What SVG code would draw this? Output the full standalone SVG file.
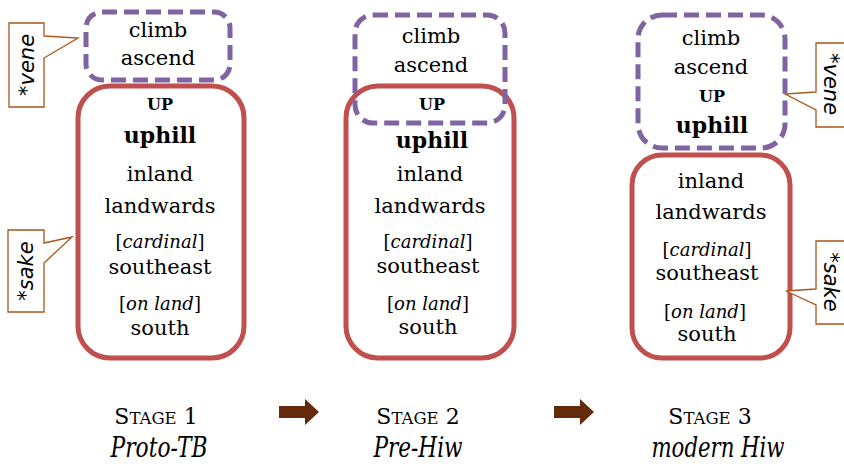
<svg xmlns="http://www.w3.org/2000/svg" width="844" height="466" viewBox="0 0 844 466">
<style>
.t{font-family:"DejaVu Serif","Liberation Serif",serif;fill:#000;text-anchor:middle}
.n{font-size:21px}
.up{font-size:16px;font-weight:bold}
.uh{font-size:22px;font-weight:bold}
.c{font-size:18px}
.i{font-style:italic}
.red{fill:none;stroke:#c0504d;stroke-width:5}
.pur{fill:none;stroke:#8064a2;stroke-width:5;stroke-dasharray:15 7}
.co{fill:#fff;stroke:#a8561a;stroke-width:1.3}
.cot{font-family:"DejaVu Sans","Liberation Sans",sans-serif;font-style:italic;font-size:21px;fill:#000;text-anchor:middle}
.st{font-family:"DejaVu Serif","Liberation Serif",serif;text-anchor:middle;fill:#000;font-size:22px}
.sc{font-size:16.5px}
.sn{font-family:"DejaVu Serif","Liberation Serif",serif;font-stretch:condensed;font-style:italic;text-anchor:middle;fill:#000;font-size:27px}
.arr{fill:#632b0c}
</style>
<g id="stage1">
  <g id="s1-red">
    <rect class="red" x="78" y="86" width="166" height="272" rx="32"/>
    <text class="t up" x="160" y="110">UP</text>
    <text class="t uh" x="160" y="143">uphill</text>
    <text class="t n" x="160" y="181">inland</text>
    <text class="t n" x="160" y="213">landwards</text>
    <text class="t c" x="160" y="248">[<tspan class="i">cardinal</tspan>]</text>
    <text class="t n" x="160" y="274">southeast</text>
    <text class="t c" x="160" y="310">[<tspan class="i">on land</tspan>]</text>
    <text class="t n" x="160" y="335">south</text>
  </g>
  <g id="s1-purple">
    <rect class="pur" x="86" y="12" width="144" height="68" rx="16"/>
    <text class="t n" x="158" y="37">climb</text>
    <text class="t n" x="158" y="65">ascend</text>
  </g>
  <g id="s1-vene">
    <path class="co" d="M44 36 L78 38 L44 58 L44 107 L9 107 L9 23 L44 23 Z"/>
    <text class="cot" transform="translate(34,65) rotate(-90)">*vene</text>
  </g>
  <g id="s1-sake">
    <path class="co" d="M44 243 L72 237 L44 263 L44 312 L8 312 L8 230 L44 230 Z"/>
    <text class="cot" transform="translate(33,271) rotate(-90)">*sake</text>
  </g>
  <g id="s1-label">
    <text class="st" x="156" y="424">S<tspan class="sc">TAGE</tspan> 1</text>
    <text class="sn" x="159" y="457" textLength="97" lengthAdjust="spacingAndGlyphs">Proto-TB</text>
  </g>
</g>
<g id="stage2">
  <g id="s2-red">
    <rect class="red" x="346" y="86" width="168" height="272" rx="32"/>
    <text class="t up" x="432" y="110">UP</text>
    <text class="t uh" x="432" y="148">uphill</text>
    <text class="t n" x="430" y="181">inland</text>
    <text class="t n" x="430" y="213">landwards</text>
    <text class="t c" x="428" y="248">[<tspan class="i">cardinal</tspan>]</text>
    <text class="t n" x="428" y="273">southeast</text>
    <text class="t c" x="428" y="310">[<tspan class="i">on land</tspan>]</text>
    <text class="t n" x="428" y="334">south</text>
  </g>
  <g id="s2-purple">
    <rect class="pur" x="355" y="15" width="150" height="108" rx="18"/>
    <text class="t n" x="431" y="43">climb</text>
    <text class="t n" x="431" y="72">ascend</text>
  </g>
  <g id="s2-label">
    <text class="st" x="418" y="424">S<tspan class="sc">TAGE</tspan> 2</text>
    <text class="sn" x="418" y="457" textLength="89" lengthAdjust="spacingAndGlyphs">Pre-Hiw</text>
  </g>
</g>
<g id="stage3">
  <g id="s3-purple">
    <rect class="pur" x="638" y="15" width="147" height="133" rx="24"/>
    <text class="t n" x="711" y="45">climb</text>
    <text class="t n" x="711" y="74">ascend</text>
    <text class="t up" x="712" y="102">UP</text>
    <text class="t uh" x="712" y="133">uphill</text>
  </g>
  <g id="s3-red">
    <rect class="red" x="632" y="155" width="158" height="203" rx="30"/>
    <text class="t n" x="711" y="188">inland</text>
    <text class="t n" x="711" y="219">landwards</text>
    <text class="t c" x="707" y="256">[<tspan class="i">cardinal</tspan>]</text>
    <text class="t n" x="707" y="280">southeast</text>
    <text class="t c" x="705" y="318">[<tspan class="i">on land</tspan>]</text>
    <text class="t n" x="707" y="341">south</text>
  </g>
  <g id="s3-vene">
    <path class="co" d="M816 92 L785 94 L816 110 L816 127 L850 127 L850 43 L816 43 Z"/>
    <text class="cot" transform="translate(824,84) rotate(90)">*vene</text>
  </g>
  <g id="s3-sake">
    <path class="co" d="M816 289 L786 291 L816 305 L816 324 L850 324 L850 241 L816 241 Z"/>
    <text class="cot" transform="translate(824,282) rotate(90)">*sake</text>
  </g>
  <g id="s3-label">
    <text class="st" x="710" y="424">S<tspan class="sc">TAGE</tspan> 3</text>
    <text class="sn" x="718" y="457" textLength="133" lengthAdjust="spacingAndGlyphs">modern Hiw</text>
  </g>
</g>
<g id="connectors">
  <path class="arr" d="M279 406 L305 406 L305 399 L319 412 L305 425 L305 418 L279 418 Z"/>
  <path class="arr" d="M554 406 L580 406 L580 399 L594 412 L580 425 L580 418 L554 418 Z"/>
</g>
</svg>
